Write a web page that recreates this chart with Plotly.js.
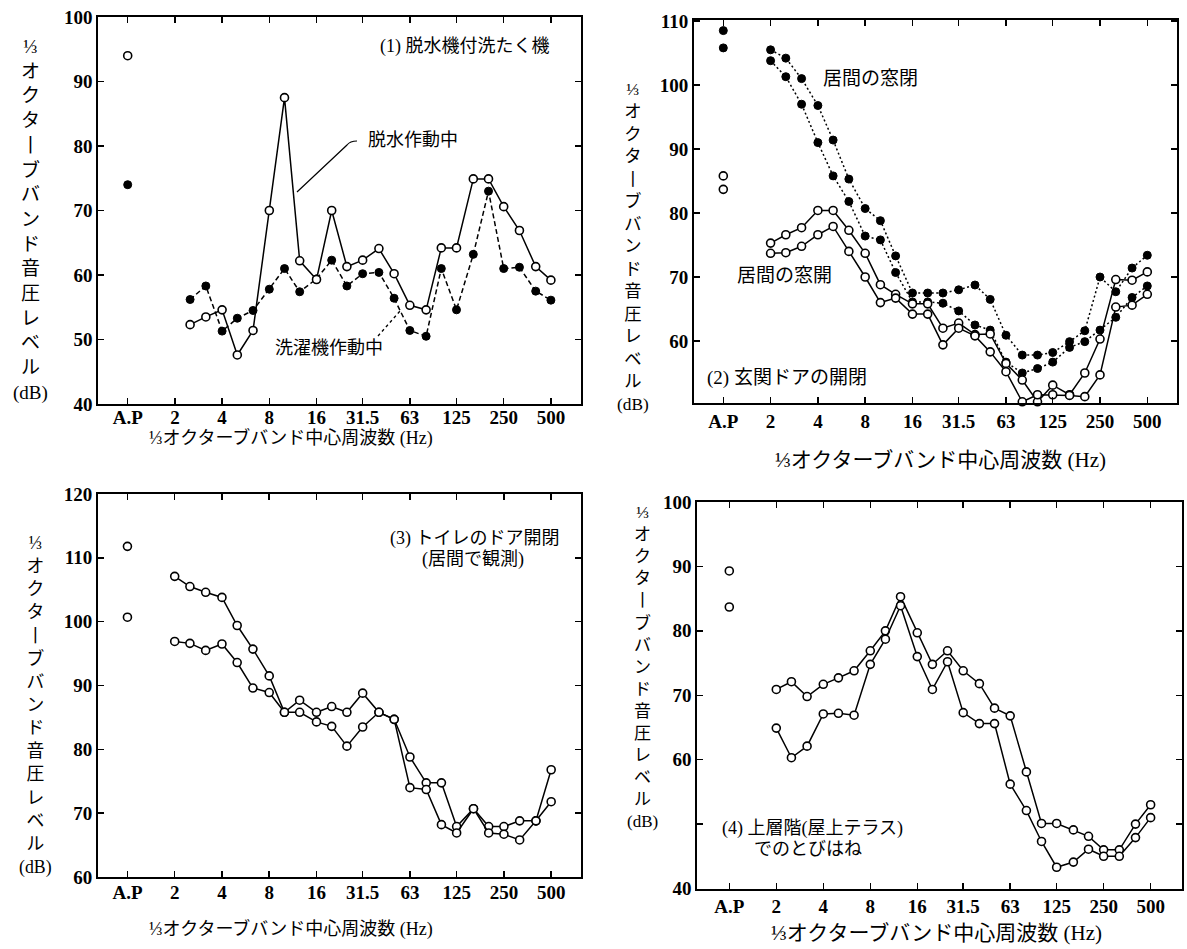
<!DOCTYPE html>
<html><head><meta charset="utf-8">
<script src="https://cdn.plot.ly/plotly-3.0.1.min.js"></script>
<style>body{margin:0;background:#fff}</style>
</head><body><div id="chart" style="width:1187px;height:949px"></div>
<script>
// ---- data ----
const bands = [2,2.5,3.15,4,5,6.3,8,10,12.5,16,20,25,31.5,40,50,63,80,100,125,160,200,250,315,400,500];
const bandsFrom25 = bands.slice(1);
const apFreq = [1];
const tickVals = [1,2,4,8,16,31.5,63,125,250,500];
const tickText = ['A.P','2','4','8','16','31.5','63','125','250','500'];

// (1) washing machine with spin-dryer
const p1ApOpen = [94];
const p1ApFilled = [74];
const p1Spin = [52.3,53.5,54.6,47.6,51.4,70.0,87.5,62.2,59.3,70.0,61.3,62.3,64.1,60.2,55.3,54.6,64.2,64.2,74.9,74.9,70.6,66.9,61.3,59.2];
const p1Wash = [56.2,58.3,51.3,53.3,54.5,57.8,61.0,57.4,59.4,62.3,58.3,60.2,60.4,56.4,51.4,50.5,61.0,54.6,63.2,73.0,61.0,61.2,57.5,56.1];

// (2) entrance door
const p2ApFilled = [108.5,105.8];
const p2ApOpen = [85.8,83.7];
const p2ClosedA = [105.5,104.2,101.0,96.8,91.4,85.3,80.7,78.8,73.3,67.5,67.5,67.5,68.0,68.75,66.5,60.9,57.8,57.8,58.2,59.9,61.6,70.0,67.7,71.4,73.4];
const p2ClosedB = [103.8,101.3,97.0,91.0,85.8,81.8,76.4,75.8,70.7,66.1,66.1,65.9,64.7,62.5,61.7,56.7,55.0,55.7,56.7,59.0,59.9,61.7,63.7,66.8,68.6];
const p2OpenC = [75.3,76.6,77.7,80.4,80.4,77.3,73.7,68.8,67.3,65.8,65.8,62.0,62.8,61.0,61.1,56.5,53.9,50.5,53.1,51.6,55.0,60.3,69.6,69.5,70.8];
const p2OpenD = [73.7,73.8,74.8,76.6,77.9,74.0,70.0,66.0,66.7,64.2,64.2,59.4,62.0,60.8,58.3,55.2,50.5,51.6,51.6,51.5,51.3,54.7,65.3,65.6,67.3];

// (3) toilet door
const p3Ap = [111.8,100.7];
const p3Upper = [107.1,105.5,104.6,103.8,99.4,95.7,91.5,85.8,87.7,85.8,86.7,85.8,88.8,85.8,84.7,78.8,74.75,74.75,67.9,70.7,67.9,67.9,68.8,68.8,76.8];
const p3Lower = [96.9,96.6,95.5,96.5,93.6,89.6,88.9,85.8,85.8,84.3,83.6,80.5,83.5,85.8,84.7,74.0,73.7,68.2,66.9,70.7,66.9,66.7,65.8,68.8,71.8];

// (4) jumping on upper floor
const p4Ap = [89.3,83.7];
const p4Upper = [70.9,72.1,69.8,71.7,72.7,73.8,76.9,80.0,85.3,79.7,74.8,76.9,73.8,71.8,68.0,66.8,58.1,50.1,50.1,49.1,48.1,46.0,46.0,50.0,53.0];
const p4Lower = [64.9,60.3,62.1,67.1,67.2,66.9,74.8,78.7,83.9,76.0,70.9,75.2,67.3,65.6,65.6,56.2,52.1,47.3,43.3,44.1,46.1,45.0,45.0,47.9,51.0];

// ---- helpers ----
const W = 1187, H = 949;
const px = v => v / W;
const py = v => 1 - v / H;

function apRep(vals) { return vals.map(() => apFreq[0]); }

function tr(xs, ys, n, filled, dash, withLine) {
  return {
    x: xs, y: ys, xaxis: n === 1 ? 'x' : 'x' + n, yaxis: n === 1 ? 'y' : 'y' + n,
    type: 'scatter', mode: withLine ? 'lines+markers' : 'markers',
    line: {color: '#000', width: 1.5, dash: dash || 'solid'},
    marker: filled ? {symbol: 'circle', size: 8, color: '#000', line: {color: '#000', width: 1}}
                   : {symbol: 'circle', size: 8, color: '#fff', line: {color: '#000', width: 1.6}},
    showlegend: false, hoverinfo: 'skip', cliponaxis: false
  };
}

const dashA = '5px,3px';
const dotB = '2px,2.5px';

const traces = [
  tr(bandsFrom25, p1Wash, 1, true, dashA, true),
  tr(bandsFrom25, p1Spin, 1, false, 'solid', true),
  tr(apRep(p1ApOpen), p1ApOpen, 1, false, null, false),
  tr(apRep(p1ApFilled), p1ApFilled, 1, true, null, false),

  tr(bands, p2ClosedA, 2, true, dotB, true),
  tr(bands, p2ClosedB, 2, true, dotB, true),
  tr(bands, p2OpenC, 2, false, 'solid', true),
  tr(bands, p2OpenD, 2, false, 'solid', true),
  tr(apRep(p2ApFilled), p2ApFilled, 2, true, null, false),
  tr(apRep(p2ApOpen), p2ApOpen, 2, false, null, false),

  tr(bands, p3Upper, 3, false, 'solid', true),
  tr(bands, p3Lower, 3, false, 'solid', true),
  tr(apRep(p3Ap), p3Ap, 3, false, null, false),

  tr(bands, p4Upper, 4, false, 'solid', true),
  tr(bands, p4Lower, 4, false, 'solid', true),
  tr(apRep(p4Ap), p4Ap, 4, false, null, false)
];

const tickFont = {family: 'Liberation Serif, DejaVu Serif, serif', size: 19, color: '#000', weight: 'bold'};
function xax(d0, d1, r0, r1, anchor, standoff) {
  return {domain: [px(d0), px(d1)], anchor: anchor, type: 'log', range: [r0, r1],
    tickvals: tickVals, ticktext: tickText, showline: true, linecolor: '#000', linewidth: 2,
    mirror: 'ticks', ticks: 'inside', ticklen: 6, tickwidth: 1.5, tickcolor: '#000',
    ticklabelstandoff: standoff,
    showgrid: false, zeroline: false, tickfont: tickFont, fixedrange: true};
}
function yax(top, bot, r0, r1, vals, texts, anchor) {
  return {domain: [py(bot), py(top)], anchor: anchor, range: [r0, r1],
    tickvals: vals, ticktext: texts, showline: true, linecolor: '#000', linewidth: 2,
    mirror: 'ticks', ticks: 'inside', ticklen: 6, tickwidth: 1.5, tickcolor: '#000',
    showgrid: false, zeroline: false, tickfont: tickFont, fixedrange: true};
}

const yt1 = [40,50,60,70,80,90,100];
const yt2 = [50,60,70,80,90,100,110];
const yt3 = [60,70,80,90,100,110,120];
const yt4 = [40,50,60,70,80,90,100];

const cjk = 'Liberation Serif, Noto Sans CJK JP, sans-serif';
const vchars = ['⅓','オ','ク','タ','丨','ブ','バ','ン','ド','音','圧','レ','ベ','ル','(dB)'];
const vtext = vchars.join('<br>');
const xtitle = '⅓オクターブバンド中心周波数 (Hz)';

function ann(text, x, y, size, opts) {
  return Object.assign({text: text, xref: 'paper', yref: 'paper', x: px(x), y: py(y),
    showarrow: false, font: {family: cjk, size: size, color: '#000'},
    xanchor: 'center', yanchor: 'middle'}, opts || {});
}

const annotations = [
  ann(vtext, 30, 220, 19),
  ann(vtext, 633, 247, 17.3),
  ann(vtext, 35, 705, 17.8),
  ann(vtext, 642, 667, 17),
  ann(xtitle, 291, 438, 18),
  ann(xtitle, 940, 460, 21),
  ann(xtitle, 291, 929, 18),
  ann(xtitle, 936, 933, 21),
  ann('(1) 脱水機付洗たく機', 465, 47, 18),
  ann('脱水作動中', 413, 140, 18),
  ann('洗濯機作動中', 329, 348, 18),
  ann('居間の窓閉', 870, 78, 19),
  ann('居間の窓開', 784, 275, 19),
  ann('(2) 玄関ドアの開閉', 705, 378, 19, {xanchor: 'left'}),
  ann('(3) トイレのドア開閉', 475, 538, 18),
  ann('(居間で観測)', 473, 559, 18),
  ann('(4) 上層階(屋上テラス)', 720, 828, 18, {xanchor: 'left'}),
  ann('でのとびはね', 752, 849, 18, {xanchor: 'left'})
];

const shapes = [
  {type: 'path', xref: 'paper', yref: 'paper',
   path: 'M' + px(297) + ',' + py(192) + ' L' + px(347) + ',' + py(145) + ' Q' + px(350) + ',' + py(141) + ' ' + px(357) + ',' + py(141),
   line: {color: '#000', width: 1.2}},
  {type: 'line', xref: 'paper', yref: 'paper', x0: px(378), y0: py(336), x1: px(400), y1: py(311),
   line: {color: '#000', width: 1.3, dash: 'dot'}}
];

const layout = {
  width: W, height: H, margin: {l: 0, r: 0, t: 0, b: 0},
  paper_bgcolor: '#fff', plot_bgcolor: '#fff', showlegend: false,
  xaxis: xax(98.3, 580.7, -0.1875, 2.889, 'y', -5),
  yaxis: yax(17, 404, 40, 100, yt1, yt1.map(String), 'x'),
  xaxis2: xax(694, 1177, -0.1865, 2.888, 'y2', 0),
  yaxis2: yax(20, 403, 50.31, 110.16, yt2, ['', '60','70','80','90','100','110'], 'x2'),
  xaxis3: xax(98, 581, -0.1875, 2.889, 'y3', -3),
  yaxis3: yax(494, 877, 60, 120, yt3, yt3.map(String), 'x3'),
  xaxis4: xax(697.3, 1181.7, -0.205, 2.898, 'y4', 0),
  yaxis4: yax(502, 888.5, 40, 100, yt4, ['40','','60','70','80','90','100'], 'x4'),
  annotations: annotations,
  shapes: shapes
};

Plotly.newPlot('chart', traces, layout, {staticPlot: true, displayModeBar: false});
</script></body></html>
